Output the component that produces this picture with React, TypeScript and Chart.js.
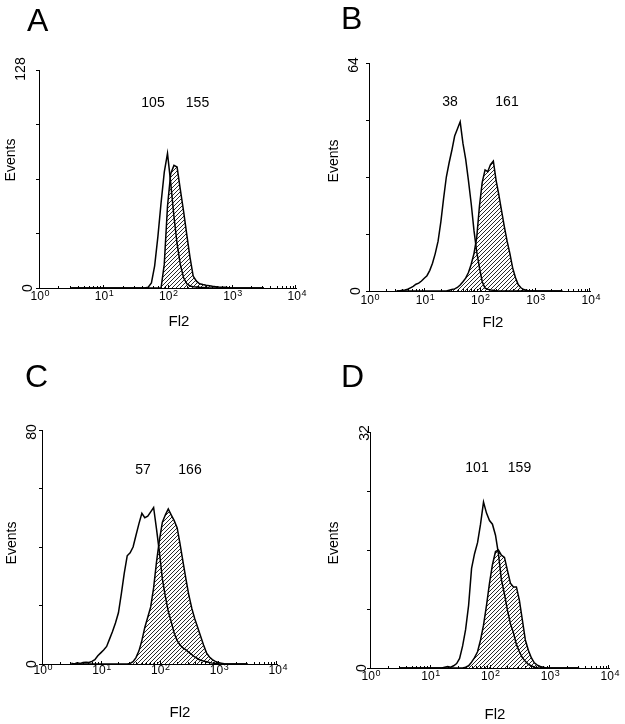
import React, { useEffect, useRef } from 'react';
import { Chart, registerables } from 'chart.js';

Chart.register(...registerables);

// Fl2 channel positions (log-spaced bins, 20 per decade)
const fl2Bins = [
  3.16, 3.55, 3.98, 4.47, 5.01, 5.62, 6.31, 7.08, 7.94, 8.91,
  10.0, 11.2, 12.6, 14.1, 15.8, 17.8, 20.0, 22.4, 25.1, 28.2,
  31.6, 35.5, 39.8, 44.7, 50.1, 56.2, 63.1, 70.8, 79.4, 89.1,
  100, 112, 126, 141, 158, 178, 200, 224, 251, 282,
  316, 355, 398, 447, 501, 562, 631, 708, 794, 891,
  1000, 1122, 1259, 1413, 1585, 1778, 1995, 2239, 2512, 2818,
  3162,
];

const xTickExponents = [0, 1, 2, 3, 4];

// Panel A
const openA = [
  0, 0, 0, 0, 0, 0, 0, 0, 0, 0,
  0, 0, 0, 0, 0, 0, 0, 0, 0, 0,
  0, 0, 0, 0, 0.5, 3, 13, 30, 50, 68,
  79, 62, 42, 26, 14, 6, 2.5, 1.2, 0.8, 0.6,
  0.4, 0.3, 0.2, 0, 0, 0, 0, 0, 0, 0,
  0, 0, 0, 0, 0, 0, 0, 0, 0, 0,
  0,
];
const hatchA = [
  0, 0, 0, 0, 0, 0, 0, 0, 0, 0,
  0, 0, 0, 0, 0, 0, 0, 0, 0, 0,
  0, 0, 0, 0, 0, 0, 0, 0, 0, 14,
  48, 67, 72, 71, 58, 45, 31, 18, 7, 4,
  2.5, 2, 1.6, 1.3, 1.0, 0.8, 0.6, 0.5, 0.4, 0.2,
  0, 0, 0, 0, 0, 0, 0, 0, 0, 0,
  0,
];
const yMaxA = 128;
const medianLabelsA = ['105', '155'];

// Panel B
const openB = [
  0, 0, 0.2, 0.3, 0.5, 0.9, 1.3, 1.9, 2.2, 2.8,
  3.6, 4.3, 5.8, 7.8, 10.5, 14, 19.5, 26, 32, 36,
  39.5, 43.5, 45.5, 47.5, 41.5, 37, 31, 24.5, 17, 11,
  6.5, 2.6, 0.8, 0.5, 0.3, 0.2, 0, 0, 0, 0,
  0, 0, 0, 0, 0, 0, 0, 0, 0, 0,
  0, 0, 0, 0, 0, 0, 0, 0, 0, 0,
  0,
];
const hatchB = [
  0, 0, 0, 0, 0, 0, 0, 0, 0, 0,
  0, 0, 0, 0, 0, 0, 0, 0, 0, 0.2,
  0.4, 0.6, 1, 1.7, 2.6, 3.6, 5.2, 7.5, 10.5, 15,
  24, 30.5, 34, 33.5, 35.5, 36.5, 31, 27, 22.5, 18,
  14, 10.5, 6.5, 3.8, 1.8, 0.9, 0.4, 0.2, 0, 0,
  0, 0, 0, 0, 0, 0, 0, 0, 0, 0,
  0,
];
const yMaxB = 64;
const medianLabelsB = ['38', '161'];

// Panel C
const openC = [
  0.3, 0, 0.4, 0.2, 0.5, 0.6, 0.5, 0.9, 1.5, 2.8,
  3.8, 4.8, 6, 8.5, 11, 14, 17.5, 24, 31, 37,
  38, 40, 44, 48, 51.5, 50, 50.5, 52, 53.5, 46,
  38, 29, 23, 18, 14.5, 10.5, 8, 6.5, 5.5, 4.8,
  4, 3.2, 2.4, 1.8, 1.3, 1, 0.8, 0.5, 0.3, 0.2,
  0, 0, 0, 0, 0, 0, 0, 0, 0, 0,
  0,
];
const hatchC = [
  0, 0, 0, 0, 0, 0, 0, 0, 0, 0,
  0, 0, 0, 0, 0, 0, 0, 0, 0, 0,
  0.2, 0.8, 2.2, 4.5, 8, 12.5, 16, 19.5, 26, 35,
  42.5, 48.5, 51, 53, 51, 49, 46.5, 41, 35, 29,
  23.5, 19, 15.5, 12.5, 9.5, 6.5, 3.8, 2.4, 1.5, 0.9,
  0.5, 0.3, 0.1, 0, 0, 0, 0, 0, 0, 0,
  0,
];
const yMaxC = 80;
const medianLabelsC = ['57', '166'];

// Panel D
const openD = [
  0, 0, 0, 0, 0, 0, 0, 0, 0, 0,
  0, 0, 0, 0, 0, 0.1, 0.2, 0.1, 0.3, 0.6,
  1.3, 3, 5.2, 8.5, 13.5, 15.5, 17, 19.5, 22.5, 21,
  20, 19.5, 18, 15.5, 12, 10, 7.8, 6, 4.8, 3.2,
  2.2, 1.4, 0.9, 0.5, 0.3, 0.1, 0, 0, 0, 0,
  0, 0, 0, 0, 0, 0, 0, 0, 0, 0,
  0,
];
const hatchD = [
  0, 0, 0, 0, 0, 0, 0, 0, 0, 0,
  0, 0, 0, 0, 0, 0, 0, 0, 0, 0,
  0, 0, 0.1, 0.3, 0.8, 1.4, 2.2, 3.8, 5.8, 8.5,
  11.5, 14, 15.8, 16, 15.3, 15, 13.2, 11.5, 11, 11,
  9.2, 6.5, 3.8, 2.4, 1.4, 0.7, 0.4, 0.2, 0.1, 0,
  0, 0, 0, 0, 0, 0, 0, 0, 0, 0,
  0,
];
const yMaxD = 32;
const medianLabelsD = ['101', '159'];

const FONT = '"Liberation Sans", Arial, Helvetica, sans-serif';

type Panel = {
  letter: string;
  open: number[];
  hatch: number[];
  yMax: number;
  medians: string[];
  // layout (page coordinates)
  origin: [number, number];
  size: [number, number];
  area: { l: number; r: number; t: number; b: number };
  letterPos: [number, number];
  yMaxPos: [number, number];
  yZeroPos: [number, number];
  eventsPos: [number, number];
  medianPos: [number, number][];
  fl2Pos: [number, number];
  tickDy: number;
};

const panels: Panel[] = [
  {
    letter: 'A', open: openA, hatch: hatchA, yMax: yMaxA, medians: medianLabelsA,
    origin: [0, 0], size: [312, 345], area: { l: 39, r: 296, t: 70, b: 288 },
    letterPos: [27, 31], yMaxPos: [21, 69], yZeroPos: [28, 288], eventsPos: [11, 160],
    medianPos: [[153, 103], [197.5, 103]], fl2Pos: [179, 322], tickDy: 12,
  },
  {
    letter: 'B', open: openB, hatch: hatchB, yMax: yMaxB, medians: medianLabelsB,
    origin: [312, 0], size: [313, 345], area: { l: 369, r: 590, t: 63, b: 291 },
    letterPos: [341, 29], yMaxPos: [354.5, 65], yZeroPos: [356, 291], eventsPos: [334, 161],
    medianPos: [[450, 102.5], [507, 102.5]], fl2Pos: [493, 323], tickDy: 13,
  },
  {
    letter: 'C', open: openC, hatch: hatchC, yMax: yMaxC, medians: medianLabelsC,
    origin: [0, 345], size: [312, 379], area: { l: 42, r: 277, t: 430, b: 664 },
    letterPos: [25, 387], yMaxPos: [32, 432], yZeroPos: [32.5, 664], eventsPos: [12, 543],
    medianPos: [[143, 470], [190, 470]], fl2Pos: [180, 713], tickDy: 10,
  },
  {
    letter: 'D', open: openD, hatch: hatchD, yMax: yMaxD, medians: medianLabelsD,
    origin: [312, 345], size: [313, 379], area: { l: 370, r: 609, t: 432, b: 668 },
    letterPos: [341, 387], yMaxPos: [365, 433], yZeroPos: [362.5, 668], eventsPos: [334, 543],
    medianPos: [[477, 468], [519.5, 468]], fl2Pos: [495, 715], tickDy: 12,
  },
];

function makeHatch(): CanvasPattern | string {
  const c = document.createElement('canvas');
  c.width = 4;
  c.height = 4;
  const g = c.getContext('2d');
  if (!g) return '#888';
  g.strokeStyle = '#111';
  g.lineWidth = 0.9;
  g.beginPath();
  g.moveTo(0, 4); g.lineTo(4, 0);
  g.moveTo(-1, 1); g.lineTo(1, -1);
  g.moveTo(3, 5); g.lineTo(5, 3);
  g.stroke();
  return g.createPattern(c, 'repeat') || '#888';
}

function makeTextPlugin(p: Panel) {
  return {
    id: 'panelText' + p.letter,
    afterDraw(chart: any) {
      const ctx: CanvasRenderingContext2D = chart.ctx;
      const xs = chart.scales.x;
      const { bottom } = chart.chartArea;
      const [ox, oy] = p.origin;
      ctx.save();
      ctx.fillStyle = '#000';
      ctx.strokeStyle = '#000';
      ctx.lineWidth = 1;
      // x tick marks (decade + minor)
      ctx.beginPath();
      for (let e = 0; e < 4; e++) {
        for (let m = 1; m <= 9; m++) {
          const v = m * Math.pow(10, e);
          const px = Math.round(xs.getPixelForValue(v)) + 0.5;
          const len = m === 1 ? 3 : 2;
          ctx.moveTo(px, bottom);
          ctx.lineTo(px, bottom - len);
        }
      }
      const pxEnd = Math.round(xs.getPixelForValue(10000)) - 0.5;
      ctx.moveTo(pxEnd, bottom);
      ctx.lineTo(pxEnd, bottom - 3);
      ctx.stroke();

      // x tick labels 10^n
      xTickExponents.forEach((e) => {
        const px = xs.getPixelForValue(Math.pow(10, e));
        ctx.font = `12px ${FONT}`;
        const w1 = ctx.measureText('10').width;
        ctx.font = `9px ${FONT}`;
        const w2 = ctx.measureText(String(e)).width;
        const start = px - (w1 + w2 + 0.5) / 2 + 1;
        ctx.textAlign = 'left';
        ctx.textBaseline = 'alphabetic';
        ctx.font = `12px ${FONT}`;
        ctx.fillText('10', start, bottom + p.tickDy);
        ctx.font = `9px ${FONT}`;
        ctx.fillText(String(e), start + w1 + 0.5, bottom + p.tickDy - 4);
      });

      // panel letter
      ctx.font = `32px ${FONT}`;
      ctx.textAlign = 'left';
      ctx.textBaseline = 'alphabetic';
      ctx.fillText(p.letter, p.letterPos[0] - ox, p.letterPos[1] - oy);

      // rotated y labels
      const rot = (txt: string, x: number, y: number, size: number) => {
        ctx.save();
        ctx.translate(x - ox, y - oy);
        ctx.rotate(-Math.PI / 2);
        ctx.font = `${size}px ${FONT}`;
        ctx.textAlign = 'center';
        ctx.textBaseline = 'middle';
        ctx.fillText(txt, 0, 0);
        ctx.restore();
      };
      rot(String(p.yMax), p.yMaxPos[0], p.yMaxPos[1], 14);
      rot('0', p.yZeroPos[0], p.yZeroPos[1], 14);
      rot('Events', p.eventsPos[0], p.eventsPos[1], 14);

      // medians
      ctx.font = `14px ${FONT}`;
      ctx.textAlign = 'center';
      ctx.textBaseline = 'middle';
      p.medians.forEach((t, i) => {
        ctx.fillText(t, p.medianPos[i][0] - ox, p.medianPos[i][1] - oy);
      });

      // x title
      ctx.font = `15px ${FONT}`;
      ctx.fillText('Fl2', p.fl2Pos[0] - ox, p.fl2Pos[1] - oy);
      ctx.restore();
    },
  };
}

function HistPanel({ p }: { p: Panel }) {
  const ref = useRef<HTMLCanvasElement | null>(null);
  useEffect(() => {
    if (!ref.current) return;
    const [ox, oy] = p.origin;
    const [w, h] = p.size;
    const pattern = makeHatch();
    const chart = new Chart(ref.current, {
      type: 'line',
      data: {
        datasets: [
          {
            data: fl2Bins.map((x, i) => ({ x, y: p.open[i] })),
            borderColor: '#000',
            borderWidth: 1.5,
            pointRadius: 0,
            fill: false,
            tension: 0,
          },
          {
            data: fl2Bins.map((x, i) => ({ x, y: p.hatch[i] })),
            borderColor: '#000',
            borderWidth: 1.5,
            pointRadius: 0,
            fill: 'origin',
            backgroundColor: pattern as any,
            tension: 0,
          },
        ],
      },
      options: {
        responsive: false,
        animation: false,
        devicePixelRatio: 1,
        events: [],
        layout: {
          padding: {
            left: p.area.l - ox,
            right: ox + w - p.area.r,
            top: p.area.t - oy,
            bottom: oy + h - p.area.b,
          },
        },
        plugins: {
          legend: { display: false },
          tooltip: { enabled: false },
          title: { display: false },
        },
        scales: {
          x: {
            type: 'logarithmic',
            min: 1,
            max: 10000,
            ticks: { display: false },
            grid: { display: false },
            border: { display: true, color: '#000', width: 1 },
            afterFit: (s: any) => { s.height = 0; },
          },
          y: {
            type: 'linear',
            min: 0,
            max: p.yMax,
            ticks: { display: false, stepSize: p.yMax / 4 },
            grid: { drawOnChartArea: false, drawTicks: true, tickLength: 3, color: '#000' },
            border: { display: true, color: '#000', width: 1 },
            afterFit: (s: any) => { s.width = 0; },
          },
        },
      } as any,
      plugins: [makeTextPlugin(p)],
    });
    return () => chart.destroy();
  }, [p]);
  return (
    <canvas
      ref={ref}
      width={p.size[0]}
      height={p.size[1]}
      style={{ position: 'absolute', left: p.origin[0], top: p.origin[1], display: 'block' }}
    />
  );
}

export default function App() {
  return (
    <div style={{ position: 'absolute', left: 0, top: 0, width: 625, height: 724, background: '#fff' }}>
      {panels.map((p) => (
        <HistPanel key={p.letter} p={p} />
      ))}
    </div>
  );
}
